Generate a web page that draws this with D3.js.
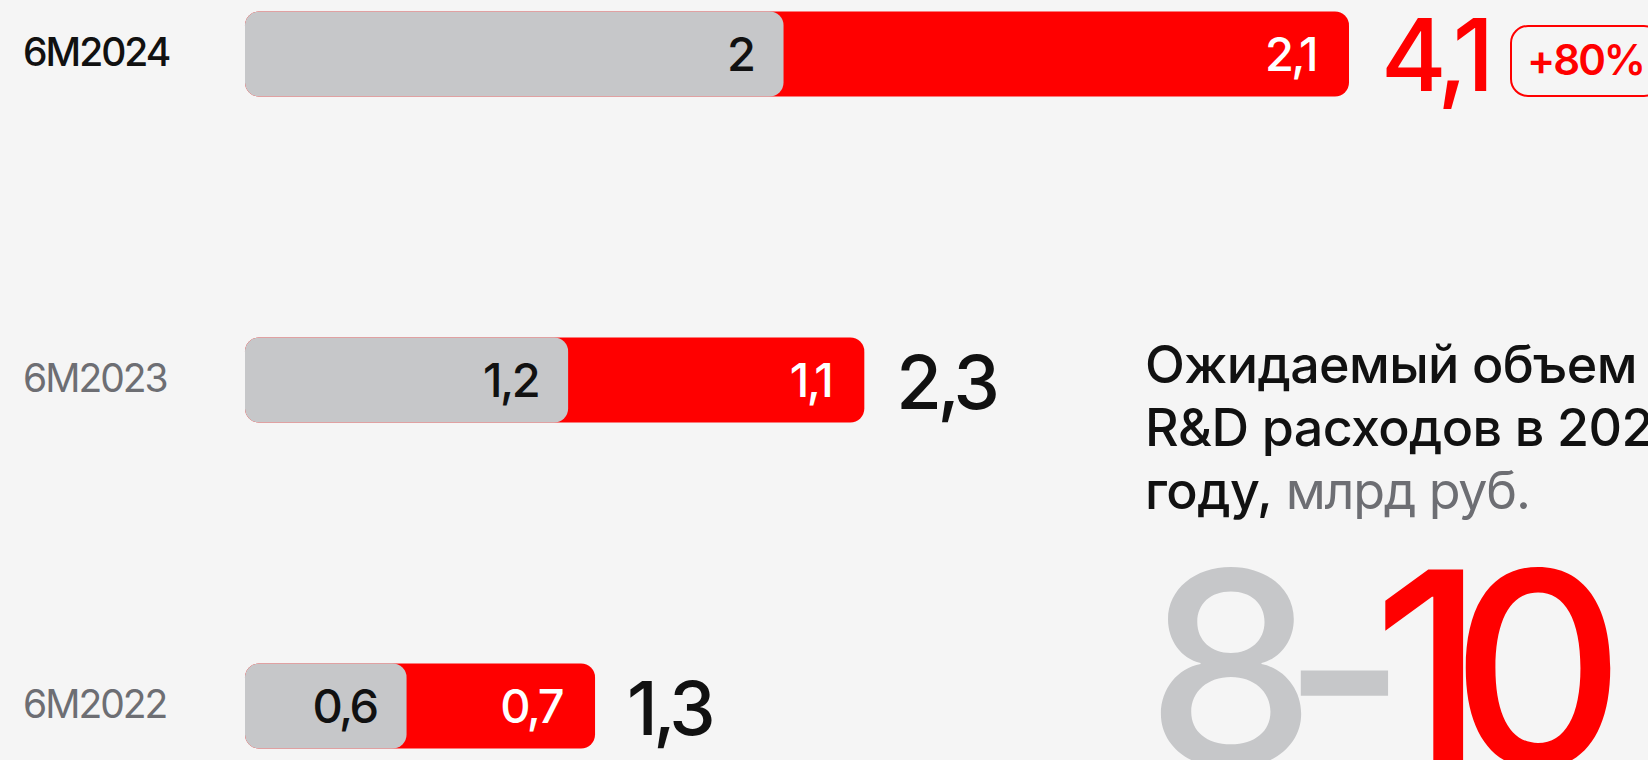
<!DOCTYPE html>
<html>
<head>
<meta charset="utf-8">
<script src="https://cdn.jsdelivr.net/npm/d3@7"></script>
<style>
  html, body { margin: 0; padding: 0; background: #f5f5f5; }
  svg { display: block; font-family: Inter, "Noto Sans", sans-serif; }
</style>
</head>
<body>
<svg id="chart"></svg>
<script>
// data
const categories = ['6M2024', '6M2023', '6M2022'];
const baseValues = [2, 1.2, 0.6];
const addedValues = [2.1, 1.1, 0.7];
const totals = [4.1, 2.3, 1.3];
const growthLabel = '+80%';
const titleLines = ['Ожидаемый объем', 'R&D расходов в 2024', 'году,'];
const unitLabel = 'млрд руб.';
const forecastLow = 8;
const forecastHigh = 10;

const width = 1648;
const height = 760;
const barH = 85;

const svg = d3.select('#chart')
    .attr('width', width)
    .attr('height', height);

svg.append('rect')
    .attr('width', width)
    .attr('height', height)
    .attr('fill', '#f5f5f5');

const ruLocale = d3.formatLocale({ decimal: ',', thousands: ' ', grouping: [3], currency: ['', ''] });
const fmt = ruLocale.format('.2~f');

const x = d3.scaleLinear()
    .domain([0, 4.1])
    .range([245, 1349]);

const y = d3.scalePoint()
    .domain(categories)
    .range([54, 706]);

const rows = categories.map((c, i) => ({
    cat: c,
    base: baseValues[i],
    added: addedValues[i],
    total: totals[i],
    first: i === 0
}));

const row = svg.selectAll('.row')
    .data(rows)
    .enter()
    .append('g')
    .attr('class', 'row')
    .attr('transform', d => `translate(0,${y(d.cat)})`);

// category labels
row.append('text')
    .attr('x', 23)
    .attr('y', -2)
    .attr('dy', '0.36em')
    .attr('font-size', '39px')
    .attr('letter-spacing', '-2px')
    .attr('font-weight', d => d.first ? 500 : 400)
    .attr('fill', d => d.first ? '#111111' : '#6d6e73')
    .text(d => d.cat);

// red bar (full total), gray bar on top
row.append('rect')
    .attr('x', x(0))
    .attr('y', -barH / 2)
    .attr('width', d => x(d.total) - x(0))
    .attr('height', barH)
    .attr('rx', 14)
    .attr('fill', '#ff0000');

row.append('rect')
    .attr('x', x(0))
    .attr('y', -barH / 2)
    .attr('width', d => x(d.base) - x(0))
    .attr('height', barH)
    .attr('rx', 14)
    .attr('fill', '#c6c7c9');

// values inside
row.append('text')
    .attr('x', d => x(d.base) - 30)
    .attr('dy', '0.36em')
    .attr('text-anchor', 'end')
    .attr('font-size', '47px')
    .attr('font-weight', 500)
    .attr('letter-spacing', '-2.5px')
    .attr('fill', '#111111')
    .text(d => fmt(d.base));

row.append('text')
    .attr('x', d => x(d.total) - 33)
    .attr('dy', '0.36em')
    .attr('text-anchor', 'end')
    .attr('font-size', '47px')
    .attr('font-weight', 500)
    .attr('letter-spacing', '-2.5px')
    .attr('fill', '#ffffff')
    .text(d => fmt(d.added));

// totals
row.append('text')
    .attr('x', d => x(d.total) + 32)
    .attr('y', d => d.first ? 1 : 2)
    .attr('dy', '0.36em')
    .attr('font-size', d => d.first ? '100px' : '74px')
    .attr('font-weight', 500)
    .attr('letter-spacing', d => d.first ? '-6px' : '-4.5px')
    .attr('fill', d => d.first ? '#ff0000' : '#111111')
    .text(d => fmt(d.total));

// growth badge
const firstRow = rows[0];
svg.append('rect')
    .attr('x', 1511)
    .attr('y', y(firstRow.cat) - 28)
    .attr('width', 150)
    .attr('height', 70)
    .attr('rx', 17)
    .attr('fill', 'none')
    .attr('stroke', '#ff0000')
    .attr('stroke-width', 2);

svg.append('text')
    .attr('x', 1527)
    .attr('y', y(firstRow.cat) + 6)
    .attr('dy', '0.36em')
    .attr('font-size', '42px')
    .attr('font-weight', 600)
    .attr('letter-spacing', '-2px')
    .attr('fill', '#ff0000')
    .text(growthLabel);

// right panel heading
const heading = svg.append('text')
    .attr('x', 1145)
    .attr('font-size', '52px')
    .attr('font-weight', 500)
    .attr('letter-spacing', '-0.6px')
    .attr('fill', '#111111');

titleLines.forEach((line, i) => {
    heading.append('tspan')
        .attr('x', 1145)
        .attr('y', 383 + i * 63)
        .text(line);
    if (i === titleLines.length - 1) {
        heading.append('tspan')
            .attr('font-weight', 400)
            .attr('fill', '#6d6e73')
            .attr('letter-spacing', '-1.2px')
            .text(' ' + unitLabel);
    }
});

// forecast range
const big = svg.append('text')
    .attr('x', 1146)
    .attr('y', 766)
    .attr('font-size', '270px')
    .attr('font-weight', 500)
    .attr('letter-spacing', '-34px');

big.append('tspan')
    .attr('fill', '#c6c7c9')
    .text(forecastLow + '-');

big.append('tspan')
    .attr('fill', '#ff0000')
    .text(forecastHigh);
</script>
</body>
</html>
